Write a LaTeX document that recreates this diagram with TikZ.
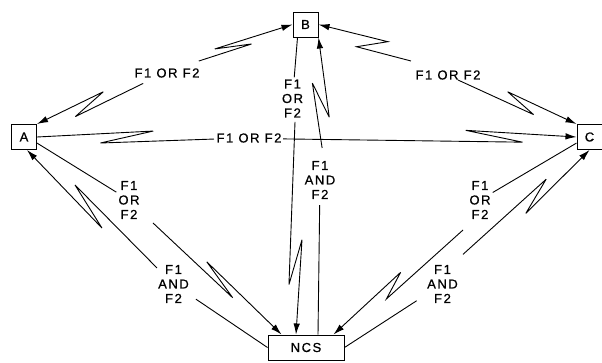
\documentclass[tikz,border=0pt]{standalone}
\usepackage{fontspec}
\newfontfamily\lblfont[LetterSpace=12,FakeBold=0.8]{Liberation Sans}
\usetikzlibrary{arrows.meta,calc}

\tikzset{
  station/.style={draw,line width=1pt,minimum size=25pt,inner sep=0pt},
  freq/.style={inner sep=2pt,align=center},
  link/.style={line width=0.9pt},
  tip/.style={link,-{Latex[length=11pt,width=6.5pt]}},
}

% broken radio link: start near label, zig, zag, end at station
\newcommand{\zap}[9][]{%
  \draw[#1] ($(#2)!#4!(#3)!#5!90:(#3)$)
    -- ($(#2)!#6!(#3)!#7!90:(#3)$)
    -- ($(#2)!#8!(#3)!#9!90:(#3)$) -- (#3);}

\begin{document}
\begin{tikzpicture}[x=1pt,y=-1pt,line join=miter,miter limit=6,
    font=\lblfont\fontsize{13}{14.5}\selectfont]
  \useasboundingbox (0,0) rectangle (602,362);

  \node[station] (A) at (24,137) {A};
  \node[station] (B) at (305.5,24.5) {B};
  \node[station] (C) at (589.5,137) {C};
  \node[station,minimum width=76pt] (NCS) at (306,347.5) {NCS};

  \node[freq] (ab) at (167,73) {F1 OR F2};
  \node[freq] (ac) at (249,138) {F1 OR F2};
  \node[freq] (bc) at (448,75) {F1 OR F2};
  \node[freq] (bnor) at (292.5,98.5) {F1\\OR\\F2};
  \node[freq] (bnand) at (320,180) {F1\\AND\\F2};
  \node[freq] (anor) at (129,200) {F1\\OR\\F2};
  \node[freq] (anand) at (173.5,284) {F1\\AND\\F2};
  \node[freq] (cnor) at (480,200) {F1\\OR\\F2};
  \node[freq] (cnand) at (442.5,284) {F1\\AND\\F2};

  \coordinate (nA) at ([xshift=3pt]A.south);
  \coordinate (nB) at ([xshift=-8pt]B.south);
  \coordinate (nN1) at ([xshift=-10pt]NCS.north);
  \coordinate (nN2) at ([xshift=12pt]NCS.north);
  \coordinate (nN3) at ([xshift=14pt]NCS.north west);
  \coordinate (nN4) at ([xshift=-11pt]NCS.north east);

  % A -- B
  \zap[tip]{ab}{A.north east}{26pt}{1pt}{.725}{7.1pt}{.474}{-5.8pt}
  \zap[tip]{ab}{B.west}{34pt}{-0.3pt}{.664}{-3.4pt}{.396}{5.2pt}
  % A -- C
  \zap[link]{ac}{A.east}{35pt}{1.2pt}{.701}{5.7pt}{.452}{-6.5pt}
  \zap[tip]{ac}{C.west}{34pt}{-1pt}{.835}{-5pt}{.662}{7pt}
  % B -- C
  \zap[tip]{bc}{B.east}{39.6pt}{0.4pt}{.687}{6.9pt}{.49}{-9.2pt}
  \zap[tip]{bc}{C.north west}{11pt}{-1.1pt}{.684}{-6.5pt}{.449}{5.6pt}
  % B -- NCS
  \draw[link] (nB) -- (bnor);
  \zap[tip]{bnor}{nN1}{23.5pt}{2.15pt}{.788}{-6.3pt}{.599}{7.4pt}
  \draw[link,shorten >=4pt] (nN2) -- (bnand);
  \zap[tip]{bnand}{B.south east}{32pt}{-2.45pt}{.68}{6.6pt}{.44}{-9.9pt}
  % A -- NCS
  \draw[link] (A.-25) -- (anor);
  \zap[tip]{anor}{nN3}{33.2pt}{-1.35pt}{.70}{-4.7pt}{.488}{5.1pt}
  \draw[link,shorten >=6pt] (NCS.west) -- (anand);
  \zap[tip]{anand}{nA}{23pt}{-0.7pt}{.703}{-6.6pt}{.456}{7pt}
  % C -- NCS
  \draw[link] (C.205) -- (cnor);
  \zap[tip]{cnor}{nN4}{32.8pt}{10.6pt}{.683}{9.6pt}{.54}{-0.4pt}
  \draw[link,shorten >=10pt] (NCS.east) -- (cnand);
  \zap[tip]{cnand}{C.south}{35.1pt}{8.1pt}{.74}{7.6pt}{.549}{-3.9pt}
\end{tikzpicture}
\end{document}
